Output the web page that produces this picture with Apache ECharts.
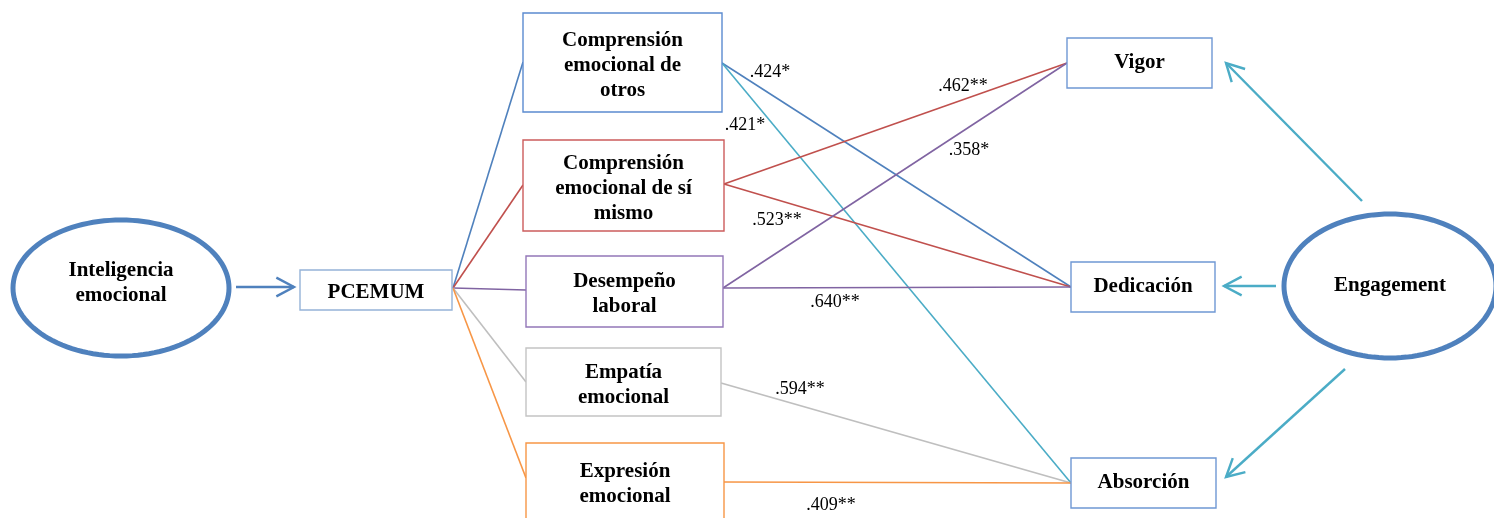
<!DOCTYPE html>
<html>
<head>
<meta charset="utf-8">
<style>
  html, body { margin: 0; padding: 0; background: #fff; }
  #chart { width: 1494px; height: 518px; }
</style>
<script src="https://cdn.jsdelivr.net/npm/echarts@6/dist/echarts.min.js"></script>
</head>
<body>
<div id="chart"></div>
<script>
// --- diagram content ---
var latentNames = ['Inteligencia\nemocional', 'Engagement']
var scaleName = 'PCEMUM'
var factorNames = ['Comprensión\nemocional de\notros', 'Comprensión\nemocional de sí\nmismo', 'Desempeño\nlaboral', 'Empatía\nemocional', 'Expresión\nemocional']
var dimensionNames = ['Vigor', 'Dedicación', 'Absorción']
// correlations factor -> dimension
var pathFactor = [0, 0, 1, 1, 2, 2, 3, 4]
var pathDimension = [1, 2, 0, 1, 0, 1, 2, 2]
var pathCoef = ['.424*', '.421*', '.462**', '.523**', '.358*', '.640**', '.594**', '.409**']

// --- layout (diagram space = 1494 x 518) ---
var latentLayout = [
  { cx: 121, cy: 288, rx: 108, ry: 68, ty: 283 },
  { cx: 1390, cy: 286, rx: 106, ry: 72, ty: 286 }
]
var scaleLayout = [300, 270, 452, 310]
var factorLayout = [[523, 13, 722, 112], [523, 140, 724, 231], [526, 256, 723, 327], [526, 348, 721, 416], [526, 443, 724, 519]]
var factorInY = [62, 185, 290, 382, 478]
var factorOutY = [63, 184, 288, 383, 482]
var dimensionLayout = [[1067, 38, 1212, 88], [1071, 262, 1215, 312], [1071, 458, 1216, 508]]
var dimensionInY = [63, 287, 483]
var coefPos = [[770, 72], [745, 125], [963, 86], [777, 220], [969, 150], [835, 302], [800, 389], [831, 505]]
var arrowLayout = [[236, 287, 294, 287], [1362, 201, 1226, 63], [1276, 286, 1224, 286], [1345, 369, 1226, 477]]

// --- colours ---
var factorColors = ['#4f81bd', '#c0504d', '#8064a2', '#bfbfbf', '#f79646']
var factorBorder = ['#5b8bd0', '#cc5c5c', '#9377b8', '#c4c4c4', '#f79646']
var pathColors = ['#4f81bd', '#4bacc6', '#c0504d', '#c0504d', '#8064a2', '#8064a2', '#bfbfbf', '#f79646']
var arrowColors = ['#4f81bd', '#4bacc6', '#4bacc6', '#4bacc6']

var boxFont = 'bold 21px "Liberation Serif", "Times New Roman", serif'
var coefFont = '18px "Liberation Serif", "Times New Roman", serif'

// boxes to draw: [x1, y1, x2, y2], with text, border colour and text nudge
var boxes = []
boxes.push({ r: scaleLayout, text: scaleName, color: '#95b3d7', dy: 3 })
factorLayout.forEach(function(r, i) {
  boxes.push({ r: r, text: factorNames[i], color: factorBorder[i], dy: 3 })
})
dimensionLayout.forEach(function(r, i) {
  boxes.push({ r: r, text: dimensionNames[i], color: '#6f98d4', dy: 0 })
})

// straight connections
var links = []
factorLayout.forEach(function(r, i) {
  links.push({ coords: [[scaleLayout[2] + 1, 288], [r[0], factorInY[i]]], lineStyle: { color: factorColors[i] } })
})
pathCoef.forEach(function(c, i) {
  var f = pathFactor[i]
  var d = pathDimension[i]
  links.push({
    coords: [[factorLayout[f][2], factorOutY[f]], [dimensionLayout[d][0], dimensionInY[d]]],
    lineStyle: { color: pathColors[i] }
  })
})

var chart = echarts.init(document.getElementById('chart'))

chart.setOption({
  animation: false,
  grid: { left: 0, right: 0, top: 0, bottom: 0 },
  xAxis: { type: 'value', min: 0, max: 1494, show: false },
  yAxis: { type: 'value', min: 0, max: 518, inverse: true, show: false },
  series: [
    {
      type: 'lines',
      coordinateSystem: 'cartesian2d',
      z: 1,
      lineStyle: { width: 1.6, opacity: 1 },
      data: links
    },
    {
      // arrows with open heads
      type: 'custom',
      z: 2,
      clip: false,
      data: arrowLayout,
      renderItem: function(params, api) {
        var a = arrowLayout[params.dataIndex]
        var p1 = api.coord([a[0], a[1]])
        var p2 = api.coord([a[2], a[3]])
        var ang = Math.atan2(p2[1] - p1[1], p2[0] - p1[0])
        var len = 20
        var spread = 28 * Math.PI / 180
        var w1 = [p2[0] - len * Math.cos(ang - spread), p2[1] - len * Math.sin(ang - spread)]
        var w2 = [p2[0] - len * Math.cos(ang + spread), p2[1] - len * Math.sin(ang + spread)]
        var style = { stroke: arrowColors[params.dataIndex], lineWidth: 2.4, fill: null }
        return {
          type: 'group',
          children: [
            { type: 'line', shape: { x1: p1[0], y1: p1[1], x2: p2[0], y2: p2[1] }, style: style },
            { type: 'polyline', shape: { points: [w1, p2, w2] }, style: style }
          ]
        }
      }
    },
    {
      // rectangles
      type: 'custom',
      z: 3,
      clip: false,
      data: boxes.map(function(b) { return b.r }),
      renderItem: function(params, api) {
        var b = boxes[params.dataIndex]
        var p1 = api.coord([b.r[0], b.r[1]])
        var p2 = api.coord([b.r[2], b.r[3]])
        return {
          type: 'group',
          children: [
            {
              type: 'rect',
              shape: { x: p1[0], y: p1[1], width: p2[0] - p1[0], height: p2[1] - p1[1] },
              style: { fill: '#fff', stroke: b.color, lineWidth: 1.4 }
            },
            {
              type: 'text',
              x: (p1[0] + p2[0]) / 2,
              y: (p1[1] + p2[1]) / 2 + b.dy,
              style: { text: b.text, font: boxFont, fill: '#000', align: 'center', verticalAlign: 'middle', lineHeight: 25 }
            }
          ]
        }
      }
    },
    {
      // latent variables (ellipses)
      type: 'custom',
      z: 3,
      clip: false,
      data: latentLayout.map(function(e) { return [e.cx, e.cy] }),
      renderItem: function(params, api) {
        var e = latentLayout[params.dataIndex]
        var pts = []
        for (var k = 0; k < 120; k++) {
          var t = k / 120 * Math.PI * 2
          pts.push(api.coord([e.cx + e.rx * Math.cos(t), e.cy + e.ry * Math.sin(t)]))
        }
        var c = api.coord([e.cx, e.ty])
        return {
          type: 'group',
          children: [
            { type: 'polygon', shape: { points: pts }, style: { fill: '#fff', stroke: '#4f81bd', lineWidth: 5 } },
            {
              type: 'text', x: c[0], y: c[1],
              style: { text: latentNames[params.dataIndex], font: boxFont, fill: '#000', align: 'center', verticalAlign: 'middle', lineHeight: 25 }
            }
          ]
        }
      }
    },
    {
      // correlation coefficients
      type: 'custom',
      z: 4,
      clip: false,
      data: coefPos,
      renderItem: function(params, api) {
        var p = api.coord(coefPos[params.dataIndex])
        return {
          type: 'text', x: p[0], y: p[1],
          style: { text: pathCoef[params.dataIndex], font: coefFont, fill: '#000', align: 'center', verticalAlign: 'middle' }
        }
      }
    }
  ]
})
</script>
</body>
</html>
